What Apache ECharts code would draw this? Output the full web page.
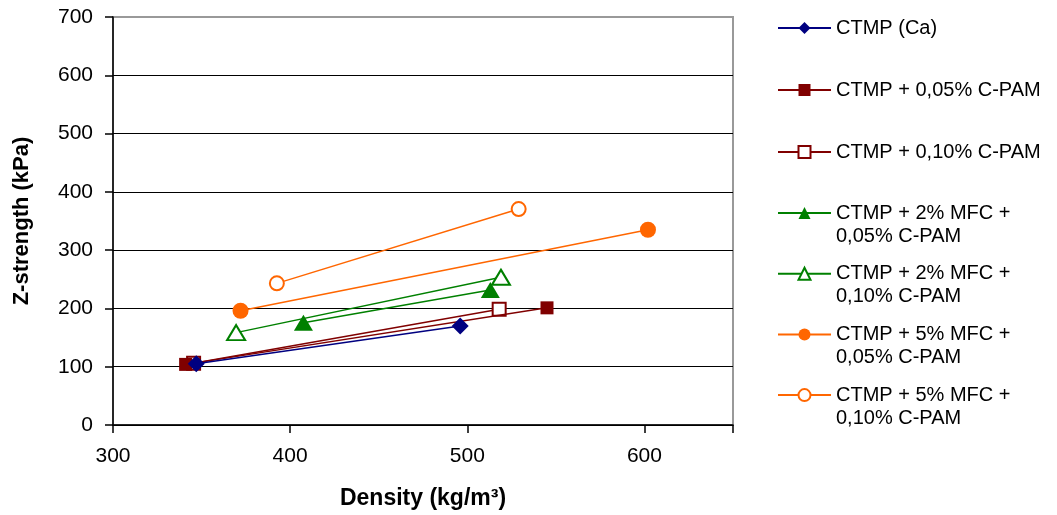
<!DOCTYPE html>
<html><head><meta charset="utf-8">
<script src="https://cdn.jsdelivr.net/npm/echarts@6/dist/echarts.min.js"></script>
<style>html,body{margin:0;padding:0;background:#fff}#c{width:1057px;height:515px}</style>
</head><body><div id="c"></div>
<script>
// ---- data ----
const seriesNames = [
  'CTMP (Ca)',
  'CTMP + 0,05% C-PAM',
  'CTMP + 0,10% C-PAM',
  'CTMP + 2% MFC + 0,05% C-PAM',
  'CTMP + 2% MFC + 0,10% C-PAM',
  'CTMP + 5% MFC + 0,05% C-PAM',
  'CTMP + 5% MFC + 0,10% C-PAM'
];
const density = [[347, 496], [341, 545], [345.5, 518], [407.5, 513], [369.5, 519], [372, 602], [392.5, 529]];
const zStrength = [[105, 170], [104, 201], [106, 198.5], [175.5, 231.5], [158.5, 253.5], [196, 335], [243, 370.5]];
const xTicks = [300, 400, 500, 600];
const yTicks = [0, 100, 200, 300, 400, 500, 600, 700];

// ---- styles ----
const colors = ['#000080', '#800000', '#800000', '#008000', '#008000', '#FF6600', '#FF6600'];
const symbols = ['diamond', 'rect', 'emptyRect', 'triangle', 'emptyTriangle', 'circle', 'emptyCircle'];
const symbolSizes = [17, 13, 13, [19, 16], [18, 15], 16, 14];
const FONT = '"Liberation Sans", Arial, sans-serif';

const chart = echarts.init(document.getElementById('c'), null, {renderer: 'canvas'});
const legendText = {fontFamily: FONT, fontSize: 20, lineHeight: 23, color: '#000'};
chart.setOption({
  animation: false,
  backgroundColor: '#fff',
  grid: {left: 113, right: 324, top: 17, bottom: 90, show: true, borderColor: '#999', borderWidth: 2, backgroundColor: 'transparent'},
  xAxis: {
    type: 'value', min: xTicks[0], max: 650, interval: xTicks[1] - xTicks[0],
    name: 'Density (kg/m³)', nameLocation: 'middle', nameGap: 62,
    nameTextStyle: {fontFamily: FONT, fontSize: 23, fontWeight: 'bold', color: '#000'},
    axisLine: {lineStyle: {color: '#000', width: 1.5}},
    axisTick: {show: true, length: 8, lineStyle: {color: '#000', width: 1.5}},
    axisLabel: {fontFamily: FONT, fontSize: 21, color: '#000', margin: 21,
      formatter: v => xTicks.indexOf(v) >= 0 ? String(v) : ''},
    splitLine: {show: false}
  },
  yAxis: {
    type: 'value', min: yTicks[0], max: yTicks[yTicks.length - 1], interval: yTicks[1] - yTicks[0],
    name: 'Z-strength (kPa)', nameLocation: 'middle', nameGap: 80, nameRotate: 90,
    nameTextStyle: {fontFamily: FONT, fontSize: 22, fontWeight: 'bold', color: '#000'},
    axisLine: {show: true, lineStyle: {color: '#000', width: 1.5}},
    axisTick: {show: true, length: 8, lineStyle: {color: '#000', width: 1.5}},
    axisLabel: {fontFamily: FONT, fontSize: 21, color: '#000', margin: 20},
    splitLine: {show: true, showMaxLine: false, lineStyle: {color: '#000', width: 1}}
  },
  legend: [
    {
      data: seriesNames.slice(0, 3), orient: 'vertical', left: 772, top: 11.5,
      itemWidth: 53, itemHeight: 15, itemGap: 39, selectedMode: false,
      textStyle: legendText
    },
    {
      data: seriesNames.slice(3), orient: 'vertical', left: 772, top: 173.5,
      itemWidth: 53, itemHeight: 15, itemGap: -8.3, selectedMode: false,
      formatter: n => ' \n' + n.replace('MFC + ', 'MFC +\n'),
      textStyle: legendText
    }
  ],
  series: seriesNames.map((n, i) => ({
    name: n, type: 'line',
    data: density[i].map((x, j) => [x, zStrength[i][j]]),
    symbol: symbols[i], symbolSize: symbolSizes[i],
    lineStyle: {color: colors[i], width: 1.5},
    itemStyle: {color: colors[i], borderColor: colors[i], borderWidth: symbols[i].indexOf('empty') === 0 ? 1.5 : 0},
    emphasis: {disabled: true},
    z: 2 + (6 - i) * 0.01
  }))
});
</script></body></html>
